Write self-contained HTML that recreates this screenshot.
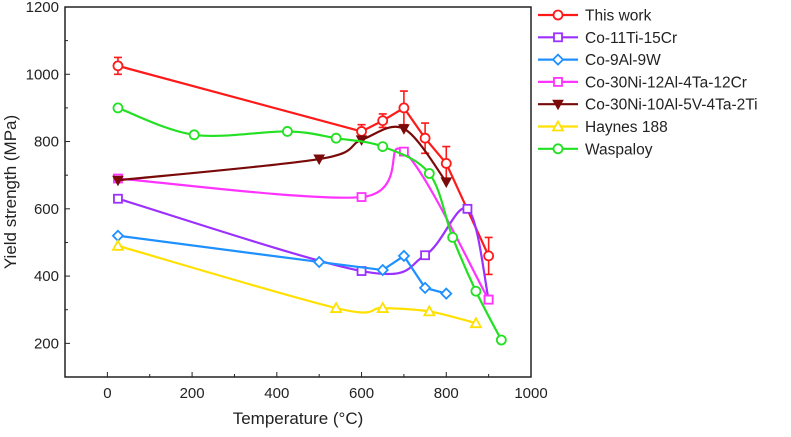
<!DOCTYPE html>
<html><head><meta charset="utf-8"><style>
body{margin:0;background:#fff;}
svg text{font-family:"Liberation Sans",Arial,sans-serif;fill:#222;}
</style></head><body>
<svg id="chart" width="791" height="432" xmlns="http://www.w3.org/2000/svg"></svg>
<script>
const seriesNames=["This work","Co-11Ti-15Cr","Co-9Al-9W","Co-30Ni-12Al-4Ta-12Cr","Co-30Ni-10Al-5V-4Ta-2Ti","Haynes 188","Waspaloy"];
const colors=["#ff1a1a","#9b30ff","#1e90ff","#ff33ff","#7a0a0a","#ffe000","#22e022"];
const markers=["circle","square","diamond","square","tri-down","tri-up","circle"];
const temps0=[25,600,650,700,750,800,900];
const vals0=[1025,830,862,900,810,735,460];
const errs0=[25,20,20,50,45,50,55];
const temps1=[25,600,750,850,900];
const vals1=[630,415,462,600,330];
const temps2=[25,500,650,700,750,800];
const vals2=[520,442,418,460,365,348];
const temps3=[25,600,700,900];
const vals3=[690,635,770,330];
const temps4=[25,500,600,700,800];
const vals4=[685,748,805,838,680];
const temps5=[25,540,650,760,870];
const vals5=[490,305,305,295,260];
const temps6=[25,205,425,540,650,760,815,870,930];
const vals6=[900,820,830,810,785,705,515,355,210];
const xTicks=[0,200,400,600,800,1000];
const yTicks=[200,400,600,800,1000,1200];
const allT=[temps0,temps1,temps2,temps3,temps4,temps5,temps6];
const allV=[vals0,vals1,vals2,vals3,vals4,vals5,vals6];
const smooth=[false,true,false,true,true,true,true];

const svg=document.getElementById('chart');
const NS="http://www.w3.org/2000/svg";
const L=65,R=531,T=7,B=377;
const xs=v=>L+(v+100)/1100*(R-L);
const ys=v=>B-(v-100)/1100*(B-T);
function mk(tag,at,parent){const e=document.createElementNS(NS,tag);for(const k in at)e.setAttribute(k,at[k]);(parent||svg).appendChild(e);return e;}

const frame=mk('path',{d:`M${L},${T}H${R}V${B}H${L}Z`,fill:'none',stroke:'#222','stroke-width':1.5});


xTicks.forEach(t=>{
  const l=mk('line',{x1:xs(t),x2:xs(t),y1:B,y2:B-5,stroke:'#222'});
  
  
  if(t<1000){
    const m=mk('line',{x1:xs(t+100),x2:xs(t+100),y1:B,y2:B-3,stroke:'#222'});
    
    
  }
  const tx=mk('text',{x:xs(t),y:B+21,'text-anchor':'middle','font-size':15});
  tx.textContent=t;
  
  
});
yTicks.forEach(t=>{
  const l=mk('line',{x1:L,x2:L+5,y1:ys(t),y2:ys(t),stroke:'#222'});
  
  
  const m=mk('line',{x1:L,x2:L+3,y1:ys(t-100),y2:ys(t-100),stroke:'#222'});
  
  
  const tx=mk('text',{x:L-6,y:ys(t)+5,'text-anchor':'end','font-size':15});
  tx.textContent=t;
  
  
});
const xt=mk('text',{x:298,y:424,'text-anchor':'middle','font-size':17});
xt.textContent='Temperature (°C)';


const yt=mk('text',{x:0,y:0,'text-anchor':'middle','font-size':17,transform:`translate(16,${(T+B)/2}) rotate(-90)`});
yt.textContent='Yield strength (MPa)';



function pathFor(pts,sm){
  let d=`M${pts[0][0]},${pts[0][1]}`;
  for(let i=1;i<pts.length;i++){
    if(!sm){d+=`L${pts[i][0]},${pts[i][1]}`;continue;}
    const p0=pts[i-2]||pts[i-1],p1=pts[i-1],p2=pts[i],p3=pts[i+1]||pts[i];
    const c1=[p1[0]+(p2[0]-p0[0])/6,p1[1]+(p2[1]-p0[1])/6];
    const c2=[p2[0]-(p3[0]-p1[0])/6,p2[1]-(p3[1]-p1[1])/6];
    d+=`C${c1[0]},${c1[1]} ${c2[0]},${c2[1]} ${p2[0]},${p2[1]}`;
  }
  return d;
}
function marker(g,type,x,y,c){
  let e;
  if(type==='circle')e=mk('circle',{cx:x,cy:y,r:4.5,fill:'#fff',stroke:c,'stroke-width':1.8},g);
  else if(type==='square')e=mk('rect',{x:x-4,y:y-4,width:8,height:8,fill:'#fff',stroke:c,'stroke-width':1.8},g);
  else if(type==='diamond')e=mk('polygon',{points:`${x},${y-5} ${x+5},${y} ${x},${y+5} ${x-5},${y}`,fill:'#fff',stroke:c,'stroke-width':1.8},g);
  else if(type==='tri-down')e=mk('polygon',{points:`${x-5},${y-4} ${x+5},${y-4} ${x},${y+5}`,fill:c,stroke:c},g);
  else e=mk('polygon',{points:`${x-5},${y+4} ${x+5},${y+4} ${x},${y-5}`,fill:'#fff',stroke:c,'stroke-width':1.8},g);
  
  
}
allT.forEach((ts,si)=>{
  const g=mk('g',{});
  
  
  const pts=ts.map((t,i)=>[xs(t),ys(allV[si][i])]);
  const p=mk('path',{d:pathFor(pts,smooth[si]),fill:'none',stroke:colors[si],'stroke-width':2.2},g);
  
  
  if(si===0){
    ts.forEach((t,i)=>{
      const x=xs(t),y1=ys(allV[0][i]+errs0[i]),y2=ys(allV[0][i]-errs0[i]);
      const eb=mk('path',{d:`M${x},${y1}V${y2}M${x-4},${y1}H${x+4}M${x-4},${y2}H${x+4}`,stroke:colors[0],'stroke-width':1.6,fill:'none'},g);
      
      
    });
  }
  pts.forEach(p=>marker(g,markers[si],p[0],p[1],colors[si]));
});
seriesNames.forEach((n,i)=>{
  const y=15+i*22.3;
  const g=mk('g',{});
  
  
  mk('line',{x1:538,x2:578,y1:y,y2:y,stroke:colors[i],'stroke-width':2.2},g);
  marker(g,markers[i],558,y,colors[i]);
  const t=mk('text',{x:585,y:y+5.5,'font-size':15.5},g);
  t.textContent=n;
  
  
});
</script>
</body></html>
